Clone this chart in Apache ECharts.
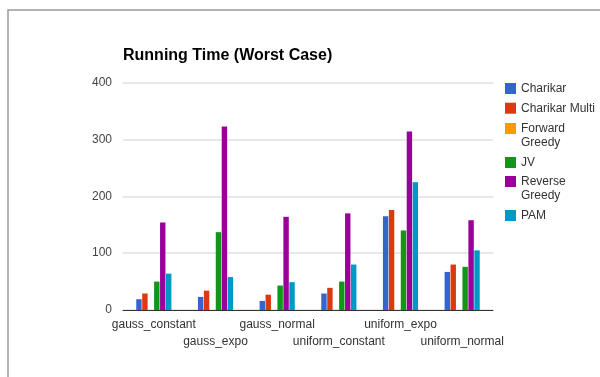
<!DOCTYPE html>
<html>
<head>
<meta charset="utf-8">
<script src="https://cdn.jsdelivr.net/npm/echarts@6/dist/echarts.min.js"></script>
<style>html,body{margin:0;padding:0;background:#fff;}#c{width:600px;height:377px;}</style>
</head>
<body>
<div id="c"></div>
<script>
const categories = ['gauss_constant','gauss_expo','gauss_normal','uniform_constant','uniform_expo','uniform_normal'];
const seriesNames = ['Charikar','Charikar Multi','Forward Greedy','JV','Reverse Greedy','PAM'];
const legendFirstLines = ['Charikar','Charikar Multi','Forward','JV','Reverse','PAM'];
const legendSecondLines = ['', '', 'Greedy', '', 'Greedy', ''];
const charikar = [19, 23, 16, 29, 165, 67];
const charikarMulti = [29, 34, 27, 39, 176, 80];
const forwardGreedy = [0, 0, 0, 0, 0, 0];
const jv = [50, 137, 43, 50, 140, 76];
const reverseGreedy = [154, 323, 164, 170, 314, 158];
const pam = [64, 58, 49, 80, 225, 105];
const yTicks = [0, 100, 200, 300, 400];
const colors = ['#3366cc','#dc3912','#ff9900','#109618','#990099','#0099c6'];
const values = [charikar, charikarMulti, forwardGreedy, jv, reverseGreedy, pam];

const FONT = 'Arial, "Liberation Sans", sans-serif';
const legendCenters = [88, 107.7, 128, 162, 181, 215];
const legends = seriesNames.map((n, i) => ({
  orient: 'vertical', left: 500, top: legendCenters[i] - 10.5,
  data: [n], itemWidth: 11, itemHeight: 11, itemGap: 0,
  icon: 'rect',
  formatter: () => legendFirstLines[i],
  textStyle: { color: '#333', fontSize: 12, fontFamily: FONT, lineHeight: 11 }
}));
const secondLineTexts = [];
legendSecondLines.forEach((t, i) => {
  if (t) secondLineTexts.push({
    type: 'text', left: 521, top: legendCenters[i] + 9,
    style: { text: t, fill: '#333', font: '12px ' + FONT }, silent: true
  });
});

const chart = echarts.init(document.getElementById('c'), null, { renderer: 'canvas' });
chart.setOption({
  animation: false,
  color: colors,
  title: {
    text: 'Running Time (Worst Case)', left: 118, top: 42.7,
    textStyle: { fontSize: 16, fontWeight: 'bold', color: '#000', fontFamily: FONT }
  },
  graphic: [{
    type: 'rect', shape: { x: 8, y: 10, width: 700, height: 500 },
    style: { fill: 'none', stroke: '#9a9a9a', lineWidth: 1.5 }, silent: true, z: -10
  }].concat(secondLineTexts),
  legend: legends,
  grid: { left: 123, right: 107, top: 82.7, bottom: 67 },
  xAxis: {
    type: 'category', data: categories,
    axisTick: { show: false },
    axisLine: { lineStyle: { color: '#333', width: 1 } },
    axisLabel: {
      interval: 0, color: '#333', fontSize: 12, margin: 6, lineHeight: 17,
      fontFamily: FONT,
      formatter: (v, i) => (i % 2 ? '\n' + v : v)
    }
  },
  yAxis: {
    type: 'value', min: yTicks[0], max: yTicks[yTicks.length - 1], interval: 100,
    axisLine: { show: false }, axisTick: { show: false },
    splitLine: { lineStyle: { color: '#e0e0e0', width: 1.5 } },
    axisLabel: { color: '#444', fontSize: 12, margin: 11, fontFamily: FONT }
  },
  series: seriesNames.map((n, i) => ({
    name: n, type: 'bar', data: values[i],
    barCategoryGap: '43%', barGap: '10%'
  }))
});
</script>
</body>
</html>
